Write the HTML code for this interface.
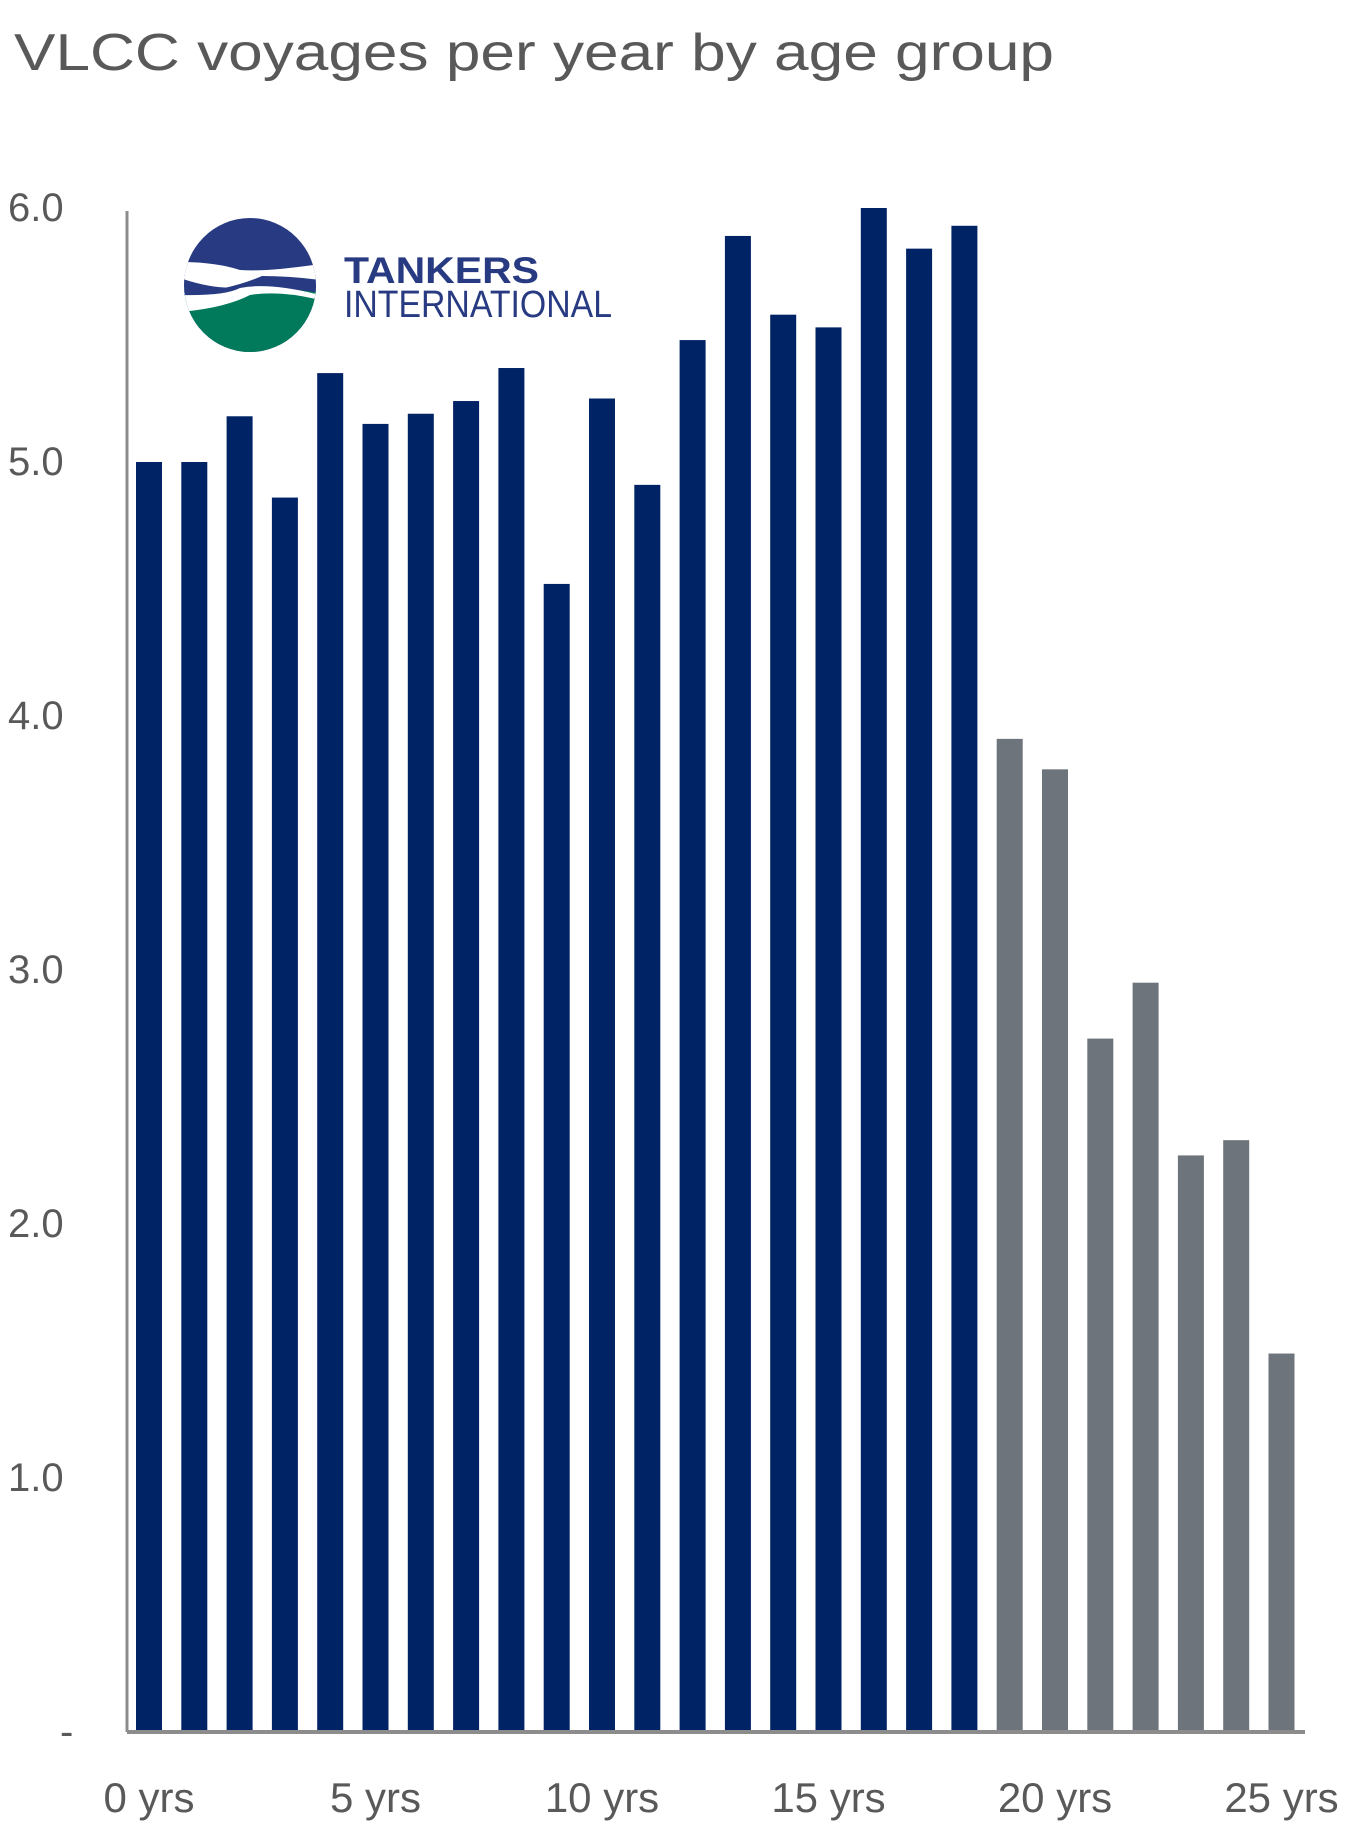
<!DOCTYPE html>
<html><head><meta charset="utf-8"><style>
html,body{margin:0;padding:0;background:#fff;}
svg{display:block;font-family:"Liberation Sans",sans-serif;}
</style></head><body>
<svg width="1366" height="1835" viewBox="0 0 1366 1835">
<text x="14" y="70" font-size="52" fill="#595959" textLength="1040" lengthAdjust="spacingAndGlyphs">VLCC voyages per year by age group</text>
<g>
<defs><clipPath id="lc"><ellipse cx="250" cy="285" rx="66" ry="67"/></clipPath></defs>
<g clip-path="url(#lc)">
<rect x="180" y="215" width="140" height="140" fill="#283b82"/>
<rect x="180" y="290" width="140" height="70" fill="#007a5a"/>
<path d="M180 262 Q215 262 240 270 Q265 272 320 264 L320 280 Q290 276 262 276 Q230 290 180 295 Z" fill="#fff"/>
<path d="M180 278 Q215 290 240 287 Q262 280 320 284 L320 293 Q290 288 268 290 Q240 300 180 295 Z" fill="#283b82"/>
<path d="M180 295 Q225 296 240 288 Q270 282 320 295 L320 300 Q280 290 250 295 Q225 308 180 312 Z" fill="#fff"/>
</g>
<text x="344" y="283" font-size="37" font-weight="bold" fill="#283b82" textLength="195" lengthAdjust="spacingAndGlyphs">TANKERS</text>
<text x="344" y="317" font-size="38" fill="#283b82" textLength="268" lengthAdjust="spacingAndGlyphs">INTERNATIONAL</text>
</g>
<g id="yax"></g><g id="bars"></g><g id="xax"></g>
<line x1="127" y1="211" x2="127" y2="1732" stroke="#8c8c8c" stroke-width="3"/>
<line x1="127" y1="1732" x2="1305" y2="1732" stroke="#8c8c8c" stroke-width="4"/>
</svg>
<script>
const values = [5.0,5.0,5.18,4.86,5.35,5.15,5.19,5.24,5.37,4.52,5.25,4.91,5.48,5.89,5.58,5.53,6.0,5.84,5.93,3.91,3.79,2.73,2.95,2.27,2.33,1.49];
const oldFrom = 19;
const yTicks = [0,1,2,3,4,5,6];
const yTickLabels = ["-","1.0","2.0","3.0","4.0","5.0","6.0"];
const xLabelIdx = [0,5,10,15,20,25];
const xLabels = ["0 yrs","5 yrs","10 yrs","15 yrs","20 yrs","25 yrs"];
const NS="http://www.w3.org/2000/svg";
const y = v => 1732 - v*254;
const x = i => 136 + i*45.3;
const bw = 26;
const bars=document.getElementById('bars');
values.forEach((v,i)=>{
  const r=document.createElementNS(NS,'rect');
  r.setAttribute('x',x(i));r.setAttribute('y',y(v));
  r.setAttribute('width',bw);r.setAttribute('height',y(0)-y(v));
  r.setAttribute('fill',i<oldFrom?'#002366':'#6d747c');
  
  
  bars.appendChild(r);
});
const yax=document.getElementById('yax');
yTicks.forEach((t,k)=>{
  const tx=document.createElementNS(NS,'text');
  tx.setAttribute('x',t===0?60:8);tx.setAttribute('y',y(t)+13);
  tx.setAttribute('font-size','40');tx.setAttribute('fill','#595959');
  tx.textContent=yTickLabels[k];
  
  
  yax.appendChild(tx);
});
const xax=document.getElementById('xax');
xLabelIdx.forEach((i,k)=>{
  const tx=document.createElementNS(NS,'text');
  tx.setAttribute('x',x(i)+bw/2);tx.setAttribute('y',1812);
  tx.setAttribute('font-size','42');tx.setAttribute('fill','#595959');
  tx.setAttribute('text-anchor','middle');
  tx.textContent=xLabels[k];
  
  
  xax.appendChild(tx);
});
</script>
</body></html>
